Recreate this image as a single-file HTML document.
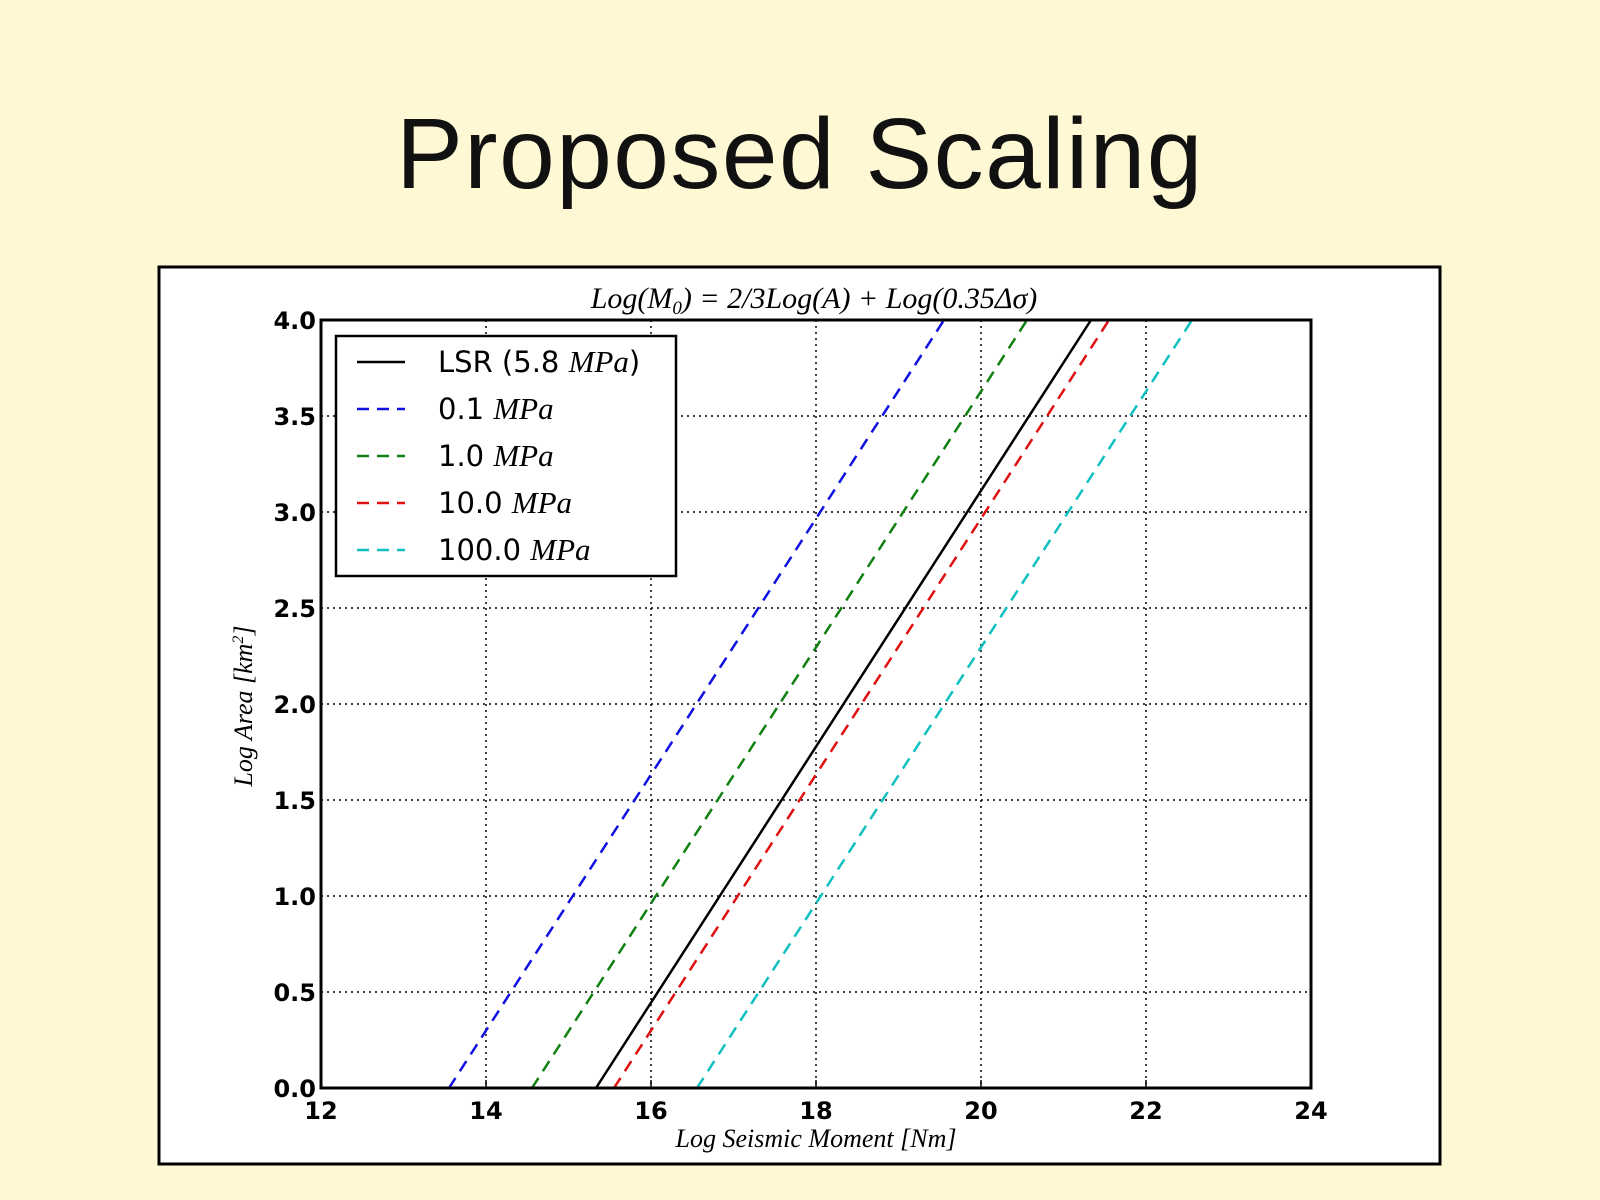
<!DOCTYPE html>
<html><head><meta charset="utf-8"><style>
html,body{margin:0;padding:0;background:#fff8d4;}
svg{display:block}
</style></head><body>
<svg width="1600" height="1200" xmlns="http://www.w3.org/2000/svg">
<rect width="1600" height="1200" fill="#fff8d4"/>
<text x="800" y="188" text-anchor="middle" font-family="Liberation Sans, DejaVu Sans, sans-serif" font-size="100" letter-spacing="1.5" fill="#111">Proposed Scaling</text>
<rect x="159" y="267" width="1281" height="897" fill="#fff" stroke="#000" stroke-width="3"/>
<g stroke="#000" stroke-width="1.5" stroke-dasharray="2,4">
<line x1="486" y1="320" x2="486" y2="1088"/><line x1="651" y1="320" x2="651" y2="1088"/><line x1="816" y1="320" x2="816" y2="1088"/><line x1="981" y1="320" x2="981" y2="1088"/><line x1="1146" y1="320" x2="1146" y2="1088"/>
<line x1="321" y1="992" x2="1311" y2="992"/><line x1="321" y1="896" x2="1311" y2="896"/><line x1="321" y1="800" x2="1311" y2="800"/><line x1="321" y1="704" x2="1311" y2="704"/><line x1="321" y1="608" x2="1311" y2="608"/><line x1="321" y1="512" x2="1311" y2="512"/><line x1="321" y1="416" x2="1311" y2="416"/>
</g>
<g stroke-width="2.5" fill="none">
<line x1="449" y1="1088" x2="944" y2="320" stroke="#1010e0" stroke-dasharray="12,8"/>
<line x1="532" y1="1088" x2="1027" y2="320" stroke="#108010" stroke-dasharray="12,8"/>
<line x1="614" y1="1088" x2="1109" y2="320" stroke="#e01010" stroke-dasharray="12,8"/>
<line x1="697" y1="1088" x2="1192" y2="320" stroke="#10c0c0" stroke-dasharray="12,8"/>
<line x1="596" y1="1088" x2="1091" y2="320" stroke="#000"/>
</g>
<rect x="321" y="320" width="990" height="768" fill="none" stroke="#000" stroke-width="3"/>
<g stroke="#000" stroke-width="1.5">
<line x1="486" y1="1088" x2="486" y2="1080"/><line x1="651" y1="1088" x2="651" y2="1080"/><line x1="816" y1="1088" x2="816" y2="1080"/><line x1="981" y1="1088" x2="981" y2="1080"/><line x1="1146" y1="1088" x2="1146" y2="1080"/>
</g>
<g font-family="DejaVu Sans, Liberation Sans, sans-serif" font-size="24" font-weight="bold" fill="#000" text-anchor="end">
<text x="316" y="329">4.0</text><text x="316" y="425">3.5</text><text x="316" y="521">3.0</text><text x="316" y="617">2.5</text><text x="316" y="713">2.0</text><text x="316" y="809">1.5</text><text x="316" y="905">1.0</text><text x="316" y="1001">0.5</text><text x="316" y="1097">0.0</text>
</g>
<g font-family="DejaVu Sans, Liberation Sans, sans-serif" font-size="24" font-weight="bold" fill="#000" text-anchor="middle">
<text x="321" y="1119">12</text><text x="486" y="1119">14</text><text x="651" y="1119">16</text><text x="816" y="1119">18</text><text x="981" y="1119">20</text><text x="1146" y="1119">22</text><text x="1311" y="1119">24</text>
</g>
<text x="816" y="1147" text-anchor="middle" font-family="Liberation Serif, serif" font-style="italic" font-size="26">Log Seismic Moment [Nm]</text>
<text transform="translate(252,706) rotate(-90)" text-anchor="middle" font-family="Liberation Serif, serif" font-style="italic" font-size="26">Log Area [km<tspan font-size="16" dy="-9">2</tspan><tspan dy="9">]</tspan></text>
<text x="814" y="308" text-anchor="middle" font-family="Liberation Serif, serif" font-style="italic" font-size="30">Log(M<tspan font-size="19" dy="6">0</tspan><tspan dy="-6">) = 2/3Log(A) + Log(0.35Δσ)</tspan></text>
<rect x="336" y="336" width="340" height="240" fill="#fff" stroke="#000" stroke-width="2.5"/>
<line x1="357" y1="362" x2="405" y2="362" stroke="#000" stroke-width="2.5"/>
<line x1="357" y1="409" x2="405" y2="409" stroke="#1010e0" stroke-width="2.5" stroke-dasharray="12,8"/>
<line x1="357" y1="456" x2="405" y2="456" stroke="#108010" stroke-width="2.5" stroke-dasharray="12,8"/>
<line x1="357" y1="503" x2="405" y2="503" stroke="#e01010" stroke-width="2.5" stroke-dasharray="12,8"/>
<line x1="357" y1="550" x2="405" y2="550" stroke="#10c0c0" stroke-width="2.5" stroke-dasharray="12,8"/>
<g font-family="DejaVu Sans, Liberation Sans, sans-serif" font-size="29" fill="#000">
<text x="438" y="372">LSR (5.8 <tspan font-family="Liberation Serif, serif" font-style="italic" font-size="31">MPa</tspan>)</text>
<text x="438" y="419">0.1 <tspan font-family="Liberation Serif, serif" font-style="italic" font-size="31">MPa</tspan></text>
<text x="438" y="466">1.0 <tspan font-family="Liberation Serif, serif" font-style="italic" font-size="31">MPa</tspan></text>
<text x="438" y="513">10.0 <tspan font-family="Liberation Serif, serif" font-style="italic" font-size="31">MPa</tspan></text>
<text x="438" y="560">100.0 <tspan font-family="Liberation Serif, serif" font-style="italic" font-size="31">MPa</tspan></text>
</g>
</svg>
</body></html>
